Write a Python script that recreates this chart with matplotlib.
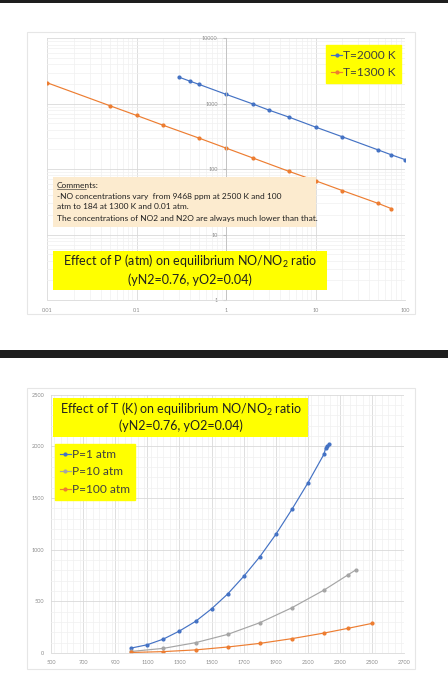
import matplotlib
matplotlib.use("Agg")
import matplotlib.pyplot as plt
from matplotlib.patches import Rectangle
from matplotlib.ticker import LogLocator, MultipleLocator, NullFormatter, FixedLocator, FixedFormatter

plt.rcParams['font.family'] = ['Lato', 'DejaVu Sans']
plt.rcParams['mathtext.fontset'] = 'custom'
plt.rcParams['mathtext.rm'] = 'Lato'
plt.rcParams['mathtext.it'] = 'Lato:italic'

# ---------------- data: top chart (NO/NO2 ratio vs P) ----------------
p_2000 = [0.3, 0.4, 0.5, 1, 2, 3, 5, 10, 20, 50, 70, 100]
r_2000 = [2540, 2200, 1975, 1393, 990, 801, 627, 440, 312, 197, 166, 140]
p_1300 = [0.01, 0.05, 0.1, 0.2, 0.5, 1, 2, 5, 10, 20, 50, 70]
r_1300 = [2094, 936, 663, 467, 298, 210, 148, 93, 66.5, 47, 30, 25]
top_xticks = [0.01, 0.1, 1, 10, 100]
top_xlabels = ["0.01", "0.1", "1", "10", "100"]
top_yticks = [1, 10, 100, 1000, 10000]
top_ylabels = ["1", "10", "100", "1000", "10000"]

# ---------------- data: bottom chart (NO/NO2 ratio vs T) ----------------
t_p1 = [1000, 1100, 1200, 1300, 1400, 1500, 1600, 1700, 1800, 1900, 2000, 2100, 2200, 2210, 2220, 2230]
r_p1 = [48, 80, 135, 213, 306, 428, 571, 742, 931, 1148, 1390, 1647, 1925, 1983, 2002, 2021]
t_p10 = [1000, 1200, 1400, 1600, 1800, 2000, 2200, 2350, 2400]
r_p10 = [15, 45, 100, 180, 293, 438, 609, 757, 806]
t_p100 = [1000, 1200, 1400, 1600, 1800, 2000, 2200, 2350, 2500]
r_p100 = [5, 13.5, 30, 58, 93, 139, 193, 239, 287]
bot_xticks = [500, 700, 900, 1100, 1300, 1500, 1700, 1900, 2100, 2300, 2500, 2700]
bot_yticks = [0, 500, 1000, 1500, 2000, 2500]

BLUE = "#4472C4"
ORANGE = "#ED7D31"
GRAY = "#A5A5A5"
YELLOW = "#FFFF00"
TICKC = "#8C8C8C"
TXT = "#202020"

W, H = 448, 700
fig = plt.figure(figsize=(W / 100, H / 100), dpi=100)
fig.patch.set_facecolor("white")


def fr(x0, y0, x1, y1):
    return [x0 / W, 1 - y1 / H, (x1 - x0) / W, (y1 - y0) / H]


def add_rect(x0, y0, x1, y1, fc, ec="none", lw=0, z=3):
    fig.add_artist(Rectangle((x0 / W, 1 - y1 / H), (x1 - x0) / W, (y1 - y0) / H,
                             transform=fig.transFigure, facecolor=fc, edgecolor=ec,
                             linewidth=lw, zorder=z))


def ftext(x, y, s, **kw):
    kw.setdefault("color", TXT)
    kw.setdefault("zorder", 4)
    fig.text(x / W, 1 - y / H, s, **kw)


# dark bands of the screenshot
add_rect(0, 0, W, 2.5, "#1e1e1e", z=-1)
add_rect(0, 350, W, 357.5, "#1e1e1e", z=-1)
# chart area outlines
add_rect(27, 32, 415, 314, "white", "#E6E6E6", 0.8, z=-1)
add_rect(27, 388, 415, 669, "white", "#E6E6E6", 0.8, z=-1)

# ---------------- top chart ----------------
ax1 = fig.add_axes(fr(47, 38.3, 405, 300))
ax1.set_zorder(1)
ax1.patch.set_alpha(0)
ax1.set_xscale("log")
ax1.set_yscale("log")
ax1.set_xlim(0.01, 100)
ax1.set_ylim(1, 10000)
ax1.xaxis.set_major_locator(FixedLocator(top_xticks))
ax1.xaxis.set_major_formatter(FixedFormatter(top_xlabels))
ax1.yaxis.set_major_locator(FixedLocator(top_yticks))
ax1.yaxis.set_major_formatter(FixedFormatter(top_ylabels))
ax1.xaxis.set_minor_locator(LogLocator(base=10, subs=range(2, 10)))
ax1.yaxis.set_minor_locator(LogLocator(base=10, subs=range(2, 10)))
ax1.xaxis.set_minor_formatter(NullFormatter())
ax1.yaxis.set_minor_formatter(NullFormatter())
ax1.grid(which="major", color="#D9D9D9", lw=0.6)
ax1.grid(which="minor", color="#F0F0F0", lw=0.5)
for s in ["top", "right"]:
    ax1.spines[s].set_visible(False)
ax1.spines["left"].set_position(("data", 1))
ax1.spines["left"].set_color("#BFBFBF")
ax1.spines["left"].set_linewidth(0.6)
ax1.spines["bottom"].set_color("#D9D9D9")
ax1.spines["bottom"].set_linewidth(0.6)
ax1.tick_params(which="both", length=0, labelsize=4, colors=TICKC, pad=6)
ax1.tick_params(axis="y", which="major", length=2, color="#BFBFBF", pad=4)
ax1.set_axisbelow(True)

ax1.plot(p_2000, r_2000, color=BLUE, lw=0.85, marker="o", ms=2.0, label="T=2000 K")
ax1.plot(p_1300, r_1300, color=ORANGE, lw=0.85, marker="o", ms=2.0, label="T=1300 K")

leg1 = ax1.legend(loc="upper right", bbox_to_anchor=((400.5 - 47) / 358, 1 - (45 - 38.3) / 261.7),
                  fontsize=8.6, frameon=True, fancybox=False, handlelength=0.9,
                  handletextpad=0.1, borderpad=0.4, labelspacing=0.55, borderaxespad=0)
leg1.get_frame().set_facecolor(YELLOW)
leg1.get_frame().set_edgecolor(YELLOW)
leg1.get_frame().set_alpha(1)
for t in leg1.get_texts():
    t.set_color("#404040")

# comments box
add_rect(53, 177, 316, 227, "#FCEBCF")
cfs = 6.0
ftext(57, 185, "Comments:", fontsize=cfs, va="center", ha="left")
fig.add_artist(plt.Line2D([57 / W, 86 / W], [1 - 189.3 / H, 1 - 189.3 / H], color=TXT, lw=0.4, zorder=4))
ftext(57, 196.3, "-NO concentrations vary  from 9468 ppm at 2500 K and 100", fontsize=cfs, va="center", ha="left")
ftext(57, 206.7, "atm to 184 at 1300 K and 0.01 atm.", fontsize=cfs, va="center", ha="left")
ftext(57, 218, "The concentrations of NO2 and N2O are always much lower than that.", fontsize=cfs, va="center", ha="left")

# title box
add_rect(53, 250.7, 327, 290, YELLOW)
ftext(190, 261.7, "Effect of P (atm) on equilibrium NO/NO$_2$ ratio", fontsize=9.0, ha="center", va="center")
ftext(190, 279.5, "(yN2=0.76, yO2=0.04)", fontsize=9.0, ha="center", va="center")

# ---------------- bottom chart ----------------
ax2 = fig.add_axes(fr(51, 394.7, 404.3, 653))
ax2.set_zorder(1)
ax2.patch.set_alpha(0)
ax2.set_xlim(500, 2700)
ax2.set_ylim(0, 2500)
ax2.xaxis.set_major_locator(FixedLocator(bot_xticks))
ax2.yaxis.set_major_locator(FixedLocator(bot_yticks))
ax2.xaxis.set_minor_locator(MultipleLocator(40))
ax2.yaxis.set_minor_locator(MultipleLocator(100))
ax2.grid(which="major", color="#D9D9D9", lw=0.6)
ax2.grid(which="minor", color="#F0F0F0", lw=0.5)
for s in ["top", "right", "left"]:
    ax2.spines[s].set_visible(False)
ax2.spines["bottom"].set_color("#D9D9D9")
ax2.spines["bottom"].set_linewidth(0.6)
ax2.tick_params(which="both", length=0, labelsize=4, colors=TICKC, pad=5)
ax2.set_axisbelow(True)

ax2.plot(t_p1, r_p1, color=BLUE, lw=0.85, marker="o", ms=2.0, label="P=1 atm")
ax2.plot(t_p10, r_p10, color=GRAY, lw=0.85, marker="o", ms=2.0, label="P=10 atm")
ax2.plot(t_p100, r_p100, color=ORANGE, lw=0.85, marker="o", ms=2.0, label="P=100 atm")

add_rect(53, 398, 308, 436.7, YELLOW)
ftext(180.5, 409, "Effect of T (K) on equilibrium NO/NO$_2$ ratio", fontsize=9.0, ha="center", va="center")
ftext(180.5, 425.5, "(yN2=0.76, yO2=0.04)", fontsize=9.0, ha="center", va="center")

leg2 = ax2.legend(loc="upper left", bbox_to_anchor=((55 - 51) / 353.3, 1 - (444 - 394.7) / 258.3),
                  fontsize=8.6, frameon=True, fancybox=False, handlelength=0.9,
                  handletextpad=0.1, borderpad=0.4, labelspacing=0.55, borderaxespad=0)
leg2.get_frame().set_facecolor(YELLOW)
leg2.get_frame().set_edgecolor(YELLOW)
leg2.get_frame().set_alpha(1)
for t in leg2.get_texts():
    t.set_color("#404040")

fig.savefig("out.png", dpi=100, facecolor="white")
